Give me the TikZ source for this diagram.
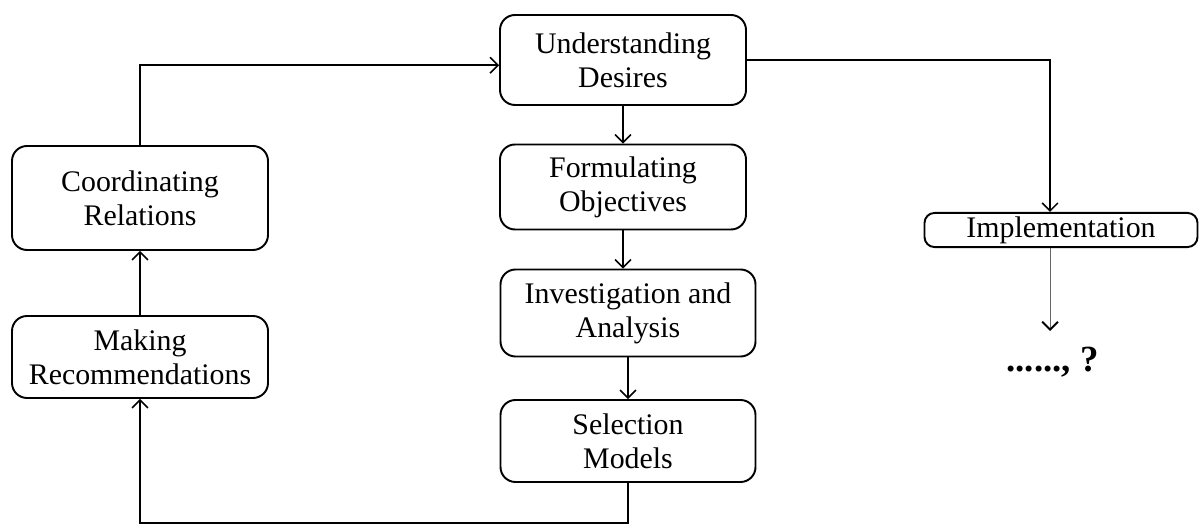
\documentclass[tikz,border=0pt]{standalone}
\usepackage{fontspec}
\setmainfont{Liberation Serif}
\usetikzlibrary{arrows.meta}
\begin{document}
\begin{tikzpicture}[
	box/.style={ draw, line width=1.1pt, rounded corners=0.3cm, align=center, inner sep=2pt, font=\fontsize{17}{19.5}\selectfont },
	link/.style={ -{Straight Barb[length=4.5pt,width=9pt]}, line width=0.9pt },
	thinlink/.style={ -{Straight Barb[length=4.5pt,width=9pt,line width=1.1pt,black]}, line width=0.5pt, black!60 }
]
\useasboundingbox (0,0) rectangle (24,10.54);

\node at (12.46,9.34) (desire) [box,minimum width=4.92cm,minimum height=1.8cm] {Understanding\\Desires};
\node at (12.46,6.8) (objective) [box,minimum width=4.92cm,minimum height=1.7cm] {Formulating\\Objectives};
\node at (12.56,4.28) (analysis) [box,minimum width=5.1cm,minimum height=1.74cm] {Investigation and\\Analysis};
\node at (12.56,1.72) (selection) [box,minimum width=5.1cm,minimum height=1.64cm] {Selection\\Models};

\node at (2.8,6.58) (coord) [box,minimum width=5.12cm,minimum height=2.08cm] {Coordinating\\Relations};
\node at (2.8,3.4) (recommend) [box,minimum width=5.12cm,minimum height=1.64cm] {Making\\Recommendations};

\node at (21.22,5.94) (implement) [box,minimum width=5.46cm,minimum height=0.68cm,rounded corners=0.2cm] {Implementation};
\node at (21.05,3.3) (unknown) [font=\fontsize{21}{24}\selectfont\bfseries] {......, ?};
\coordinate (tail) at (21.0,3.92);

\draw[link] (desire.south) -- (desire.south |- objective.north);
\draw[link] (objective.south) -- (objective.south |- analysis.north);
\draw[link] (analysis.south) -- (analysis.south |- selection.north);
\draw[link] (selection.south) -- ++(0,-0.8) -| (recommend.south);
\draw[link] (recommend) -- (coord);
\draw[link] (coord.north) |- ([yshift=-3pt]desire.west);
\draw[link] (desire.east) -| (implement.north -| tail);
\draw[thinlink] (implement.south -| tail) -- (tail);

\end{tikzpicture}
\end{document}
